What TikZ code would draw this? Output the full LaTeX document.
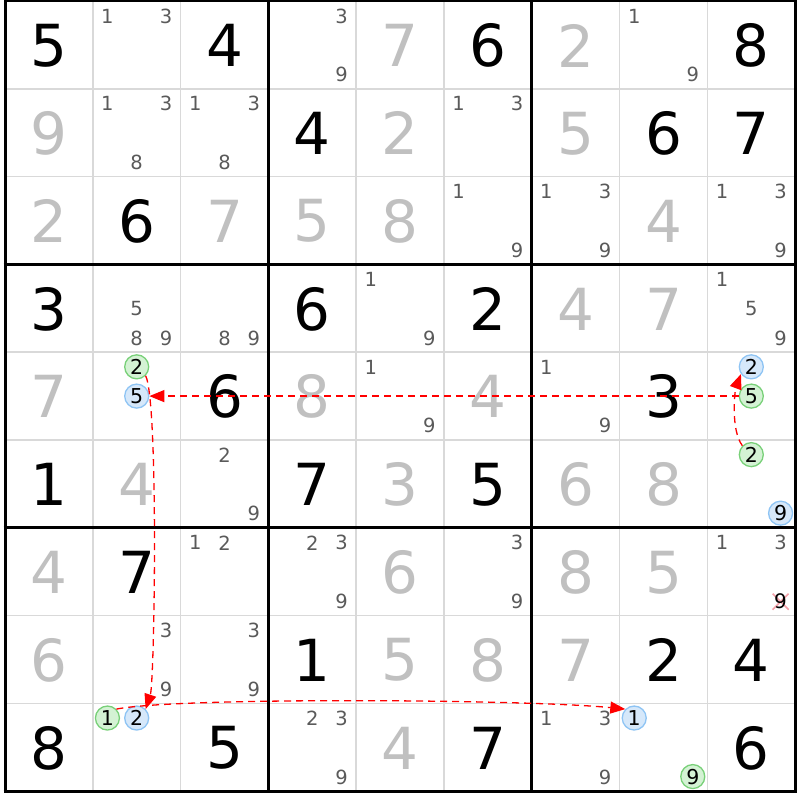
\documentclass[tikz,border=0pt]{standalone}
\usepackage{fontspec}
\setmainfont{DejaVu Sans}
\usetikzlibrary{arrows.meta}
\definecolor{solved}{HTML}{C0C0C0}
\definecolor{pmc}{HTML}{5A5A5A}
\definecolor{thinc}{HTML}{D9D9D9}
\definecolor{bfill}{HTML}{D6E8FA}
\definecolor{bline}{HTML}{8EC4F4}
\definecolor{gfill}{HTML}{D4F2D4}
\definecolor{gline}{HTML}{78D078}
\definecolor{xcol}{HTML}{F4A0A8}
\tikzset{
  given/.style={text=black,font=\fontsize{58}{58}\selectfont,inner sep=0pt},
  solvedd/.style={text=solved,font=\fontsize{58}{58}\selectfont,inner sep=0pt},
  pencil/.style={text=pmc,font=\fontsize{19.5}{19.5}\selectfont,inner sep=0pt},
  bcirc/.style={circle,draw=bline,fill=bfill,line width=1.3pt,minimum size=24pt,inner sep=0pt,font=\fontsize{20.5}{20.5}\selectfont},
  gcirc/.style={circle,draw=gline,fill=gfill,line width=1.3pt,minimum size=24pt,inner sep=0pt,font=\fontsize{20.5}{20.5}\selectfont},
  link/.style={red,line width=1.3pt,dash pattern=on 7pt off 5pt,-{Triangle[length=15pt,width=12pt]}},
}
\begin{document}
\begin{tikzpicture}[x=1pt,y=-1pt]
\useasboundingbox (0,0) rectangle (800,800);
\fill[white] (0,0) rectangle (800,800);
% thin grid
\foreach \i in {1,2,4,5,7,8}{
  \draw[thinc,line width=1.6pt] ({5+87.8*\i},1) -- ({5+87.8*\i},791);
  \draw[thinc,line width=1.6pt] (5,{1+87.8*\i}) -- (795,{1+87.8*\i});
}
% thick grid
\foreach \i in {0,3,6,9}{
  \draw[black,line width=3pt] ({5+87.8*\i},-0.5) -- ({5+87.8*\i},792.5);
  \draw[black,line width=3pt] (3.5,{1+87.8*\i}) -- (796.5,{1+87.8*\i});
}
% givens
\foreach \r/\c/\d in {0/0/5,0/2/4,0/5/6,0/8/8,1/3/4,1/7/6,1/8/7,2/1/6,3/0/3,3/3/6,3/5/2,4/2/6,4/7/3,5/0/1,5/3/7,5/5/5,6/1/7,7/3/1,7/7/2,7/8/4,8/0/8,8/2/5,8/5/7,8/8/6}
  \node[given] (g\r\c) at ({5+87.8*\c+43.9},{1+87.8*\r+44.5}) {\d};
% solved
\foreach \r/\c/\d in {0/4/7,0/6/2,1/0/9,1/4/2,1/6/5,2/0/2,2/2/7,2/3/5,2/4/8,2/7/4,3/6/4,3/7/7,4/0/7,4/3/8,4/5/4,5/1/4,5/4/3,5/6/6,5/7/8,6/0/4,6/4/6,6/6/8,6/7/5,7/0/6,7/4/5,7/5/8,7/6/7,8/4/4}
  \node[solvedd] (s\r\c) at ({5+87.8*\c+43.9},{1+87.8*\r+44.5}) {\d};
% pencil marks
\foreach \r/\c/\n in {0/1/1,0/1/3,0/3/3,0/3/9,0/7/1,0/7/9,
  1/1/1,1/1/3,1/1/8,1/2/1,1/2/3,1/2/8,1/5/1,1/5/3,
  2/5/1,2/5/9,2/6/1,2/6/3,2/6/9,2/8/1,2/8/3,2/8/9,
  3/1/5,3/1/8,3/1/9,3/2/8,3/2/9,3/4/1,3/4/9,3/8/1,3/8/5,3/8/9,
  4/4/1,4/4/9,4/6/1,4/6/9,
  5/2/2,5/2/9,
  6/2/1,6/2/2,6/3/2,6/3/3,6/3/9,6/5/3,6/5/9,6/8/1,6/8/3,
  7/1/3,7/1/9,7/2/3,7/2/9,
  8/3/2,8/3/3,8/3/9,8/6/1,8/6/3,8/6/9}
  \node[pencil] (p\r\c\n) at ({5+87.8*\c+14.63+29.27*mod(\n-1,3)},{1+87.8*\r+15+29.27*int((\n-1)/3)}) {\n};
% eliminated candidate
\coordinate (xc) at ({5+87.8*8+73.2},{1+87.8*6+73.9});
\draw[xcol,line width=1.6pt] ([shift={(-8,-8)}]xc) -- ([shift={(8,8)}]xc);
\draw[xcol,line width=1.6pt] ([shift={(-8,8)}]xc) -- ([shift={(8,-8)}]xc);
\node[pencil,text=black,font=\fontsize{20}{20}\selectfont] (e689) at (xc) {9};
% circled candidates
\foreach \r/\c/\n/\s in {4/1/2/gcirc,4/1/5/bcirc,4/8/2/bcirc,4/8/5/gcirc,5/8/2/gcirc,5/8/9/bcirc,8/1/1/gcirc,8/1/2/bcirc,8/7/1/bcirc,8/7/9/gcirc}
  \node[\s] (c\r\c\n) at ({5+87.8*\c+14.63+29.27*mod(\n-1,3)},{1+87.8*\r+14.63+29.27*int((\n-1)/3)}) {\n};
% links
\draw[link] (c582.135) .. controls +(-12,-16) and +(-6,16) .. (c482.215);
\draw[link] (c485.west) -- (c415.east);
\draw[link] (c412.-45) .. controls +(13,26) and +(9,-27) .. (c812.45);
\draw[link] (c811.45) .. controls +(60,-12) and +(-100,-10) .. (c871.135);
\end{tikzpicture}
\end{document}
